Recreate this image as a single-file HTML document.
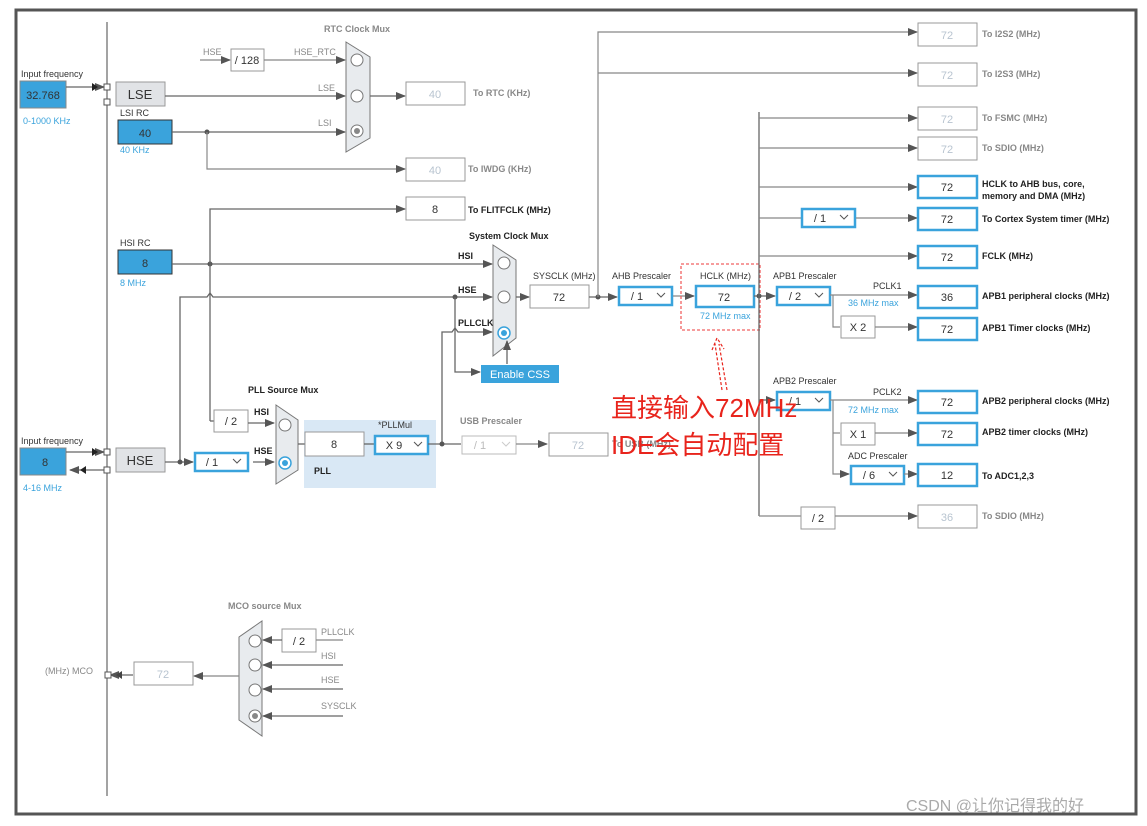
<!DOCTYPE html>
<html><head><meta charset="utf-8"><style>
html,body{margin:0;padding:0;background:#fff;}
svg{display:block;font-family:"Liberation Sans",Arial,sans-serif;}
.l{stroke:#666;stroke-width:1.3;fill:none}
.g{stroke:#888;stroke-width:1.2;fill:none}
.t{font-size:9px;fill:#333}
.tb{font-size:9px;fill:#222;font-weight:bold}
.tg{font-size:9px;fill:#888}
.tgb{font-size:9px;fill:#888;font-weight:bold}
.bl{font-size:9px;fill:#3aa3dc}
.wb{fill:#fff;stroke:#999;stroke-width:1}
.bb{fill:#fff;stroke:#3aa3dc;stroke-width:2.5}
.v{font-size:11px;fill:#333;text-anchor:middle}
.vg{font-size:11px;fill:#b8c4d0;text-anchor:middle}
.mux{fill:#e8ebee;stroke:#777;stroke-width:1}
.c{fill:#fff;stroke:#777;stroke-width:1}
</style></head><body>
<svg width="1147" height="826" viewBox="0 0 1147 826">
<defs>
<marker id="a" markerWidth="10" markerHeight="8" refX="9" refY="4" orient="auto" markerUnits="userSpaceOnUse"><path d="M0,0 L10,4 L0,8z" fill="#555"/></marker>
</defs>
<rect x="16" y="10" width="1120" height="804" fill="#fff" stroke="#555" stroke-width="3"/>
<line x1="107" y1="22" x2="107" y2="796" stroke="#666" stroke-width="1.2"/>

<text x="21" y="77" class="t">Input frequency</text>
<rect x="20" y="81" width="46" height="27" fill="#3aa3dc" stroke="#888"/>
<text x="43" y="99" class="v">32.768</text>
<text x="23" y="124" class="bl">0-1000 KHz</text>
<line x1="66" y1="87" x2="104" y2="87" class="l" marker-end="url(#a)"/>
<path d="M92,83 L98,87 L92,91z" fill="#222"/>
<rect x="104" y="84" width="6" height="6" fill="#fff" stroke="#555"/>
<rect x="104" y="99" width="6" height="6" fill="#fff" stroke="#555"/>
<rect x="116" y="82" width="49" height="24" fill="#e1e3e6" stroke="#999"/>
<text x="140" y="99" style="font-size:13px;fill:#333;text-anchor:middle">LSE</text>
<text x="120" y="116" class="t">LSI RC</text>
<rect x="118" y="120" width="54" height="24" fill="#3aa3dc" stroke="#333"/>
<text x="145" y="137" class="v">40</text>
<text x="120" y="153" class="bl">40 KHz</text>

<text x="324" y="32" class="tgb">RTC Clock Mux</text>
<text x="203" y="55" class="tg">HSE</text>
<line x1="200" y1="60" x2="230" y2="60" class="g" marker-end="url(#a)"/>
<rect x="231" y="49" width="33" height="22" class="wb"/>
<text x="247" y="64" class="v">/ 128</text>
<text x="294" y="55" class="tg">HSE_RTC</text>
<line x1="264" y1="60" x2="345" y2="60" class="g" marker-end="url(#a)"/>
<text x="318" y="91" class="tg">LSE</text>
<line x1="165" y1="96" x2="345" y2="96" class="l" marker-end="url(#a)"/>
<text x="318" y="126" class="tg">LSI</text>
<line x1="172" y1="132" x2="345" y2="132" class="l" marker-end="url(#a)"/>
<circle cx="207" cy="132" r="2.5" fill="#555"/>
<polyline points="207,132 207,169 405,169" class="g" marker-end="url(#a)"/>
<polygon points="346,42 370,57 370,138 346,152" class="mux"/>
<circle cx="357" cy="60" r="6" class="c"/><circle cx="357" cy="96" r="6" class="c"/><circle cx="357" cy="131" r="6" class="c"/><circle cx="357" cy="131" r="3" fill="#888"/>
<line x1="370" y1="96" x2="405" y2="96" class="l" marker-end="url(#a)"/>
<rect x="406" y="82" width="59" height="23" class="wb"/><text x="435" y="98" class="vg">40</text>
<text x="473" y="96" class="tgb">To RTC (KHz)</text>
<rect x="406" y="158" width="59" height="23" class="wb"/><text x="435" y="174" class="vg">40</text>
<text x="468" y="172" class="tgb">To IWDG (KHz)</text>
<rect x="406" y="197" width="59" height="23" class="wb"/><text x="435" y="213" class="v">8</text>
<text x="468" y="213" class="tb">To FLITFCLK (MHz)</text>

<text x="120" y="246" class="t">HSI RC</text>
<rect x="118" y="250" width="54" height="24" fill="#3aa3dc" stroke="#333"/>
<text x="145" y="267" class="v">8</text>
<text x="120" y="286" class="bl">8 MHz</text>
<line x1="172" y1="264" x2="492" y2="264" class="l" marker-end="url(#a)"/>
<circle cx="210" cy="264" r="2.5" fill="#555"/>
<polyline points="210,421 210,209 405,209" class="l" marker-end="url(#a)"/>
<polyline points="210,421 214,421" class="l"/>
<text x="458" y="259" class="tb">HSI</text>
<polyline points="180,462 180,297 207,297 210,293 213,297 492,297" class="l" marker-end="url(#a)"/>
<text x="458" y="293" class="tb">HSE</text>
<circle cx="455" cy="297" r="2.5" fill="#555"/>
<polyline points="455,297 455,372 480,372" class="l" marker-end="url(#a)"/>
<polyline points="442,444 442,332 452,332 455,328 458,332 492,332" class="l" marker-end="url(#a)"/>
<text x="458" y="326" class="tb">PLLCLK</text>
<text x="469" y="239" class="tb">System Clock Mux</text>
<polygon points="493,245 516,260 516,338 493,356" class="mux"/>
<circle cx="504" cy="263" r="6" class="c"/><circle cx="504" cy="297" r="6" class="c"/>
<circle cx="504" cy="333" r="6" fill="#fff" stroke="#3aa3dc" stroke-width="1.5"/><circle cx="504" cy="333" r="3" fill="#3aa3dc"/>
<line x1="507" y1="364" x2="507" y2="341" class="l" marker-end="url(#a)"/>
<rect x="481" y="365" width="78" height="18" fill="#3aa3dc"/>
<text x="520" y="378" style="font-size:11px;fill:#fff;text-anchor:middle">Enable CSS</text>
<line x1="516" y1="297" x2="529" y2="297" class="l" marker-end="url(#a)"/>
<text x="533" y="279" class="t">SYSCLK (MHz)</text>
<rect x="530" y="285" width="59" height="23" class="wb"/><text x="559" y="301" class="v">72</text>
<line x1="589" y1="297" x2="617" y2="297" class="l" marker-end="url(#a)"/>
<circle cx="598" cy="297" r="2.5" fill="#555"/>
<polyline points="598,297 598,32 917,32" class="g" marker-end="url(#a)"/>
<line x1="598" y1="73" x2="917" y2="73" class="g" marker-end="url(#a)"/>

<text x="612" y="279" class="t">AHB Prescaler</text>
<rect x="619" y="287" width="53" height="18" class="bb"/><text x="637" y="300" class="v">/ 1</text>
<path d="M657,293 l4,4 l4,-4" fill="none" stroke="#555"/>
<line x1="673" y1="296" x2="694" y2="296" class="g" marker-end="url(#a)"/>
<text x="700" y="279" class="t">HCLK (MHz)</text>
<rect x="696" y="286" width="58" height="21" class="bb"/><text x="724" y="301" class="v">72</text>
<text x="700" y="319" class="bl">72 MHz max</text>
<rect x="681" y="264" width="79" height="66" fill="none" stroke="#f06060" stroke-width="1.3" stroke-dasharray="3,2"/>
<line x1="754" y1="296" x2="775" y2="296" class="l" marker-end="url(#a)"/>
<circle cx="759" cy="296" r="2.5" fill="#555"/>
<line x1="759" y1="112" x2="759" y2="516" class="l"/>
<line x1="759" y1="118" x2="917" y2="118" class="g" marker-end="url(#a)"/>
<line x1="759" y1="148" x2="917" y2="148" class="g" marker-end="url(#a)"/>
<line x1="759" y1="187" x2="917" y2="187" class="g" marker-end="url(#a)"/>
<line x1="759" y1="218" x2="801" y2="218" class="g"/>
<rect x="802" y="209" width="53" height="18" class="bb"/><text x="820" y="222" class="v">/ 1</text>
<path d="M840,215 l4,4 l4,-4" fill="none" stroke="#555"/>
<line x1="856" y1="218" x2="917" y2="218" class="g" marker-end="url(#a)"/>
<line x1="759" y1="256" x2="917" y2="256" class="g" marker-end="url(#a)"/>

<text x="773" y="279" class="t">APB1 Prescaler</text>
<rect x="777" y="287" width="53" height="18" class="bb"/><text x="795" y="300" class="v">/ 2</text>
<path d="M815,293 l4,4 l4,-4" fill="none" stroke="#555"/>
<line x1="830" y1="295" x2="917" y2="295" class="g" marker-end="url(#a)"/>
<text x="873" y="289" class="t">PCLK1</text>
<text x="848" y="306" class="bl">36 MHz max</text>
<polyline points="833,295 833,327 840,327" class="g"/>
<rect x="841" y="316" width="34" height="22" class="wb"/><text x="858" y="331" class="v">X 2</text>
<line x1="875" y1="327" x2="917" y2="327" class="g" marker-end="url(#a)"/>

<line x1="759" y1="400" x2="775" y2="400" class="l" marker-end="url(#a)"/>
<text x="773" y="384" class="t">APB2 Prescaler</text>
<rect x="777" y="392" width="53" height="18" class="bb"/><text x="795" y="405" class="v">/ 1</text>
<path d="M815,398 l4,4 l4,-4" fill="none" stroke="#555"/>
<line x1="830" y1="400" x2="917" y2="400" class="g" marker-end="url(#a)"/>
<text x="873" y="395" class="t">PCLK2</text>
<text x="848" y="413" class="bl">72 MHz max</text>
<polyline points="833,400 833,474 849,474" class="g" marker-end="url(#a)"/>
<line x1="833" y1="433" x2="840" y2="433" class="g"/>
<rect x="841" y="423" width="34" height="22" class="wb"/><text x="858" y="438" class="v">X 1</text>
<line x1="875" y1="433" x2="917" y2="433" class="g" marker-end="url(#a)"/>
<text x="848" y="459" class="t">ADC Prescaler</text>
<rect x="851" y="466" width="53" height="18" class="bb"/><text x="869" y="479" class="v">/ 6</text>
<path d="M889,472 l4,4 l4,-4" fill="none" stroke="#555"/>
<line x1="904" y1="474" x2="917" y2="474" class="g" marker-end="url(#a)"/>
<polyline points="759,516 801,516" class="g"/>
<rect x="801" y="507" width="34" height="22" class="wb"/><text x="818" y="522" class="v">/ 2</text>
<line x1="835" y1="516" x2="917" y2="516" class="g" marker-end="url(#a)"/>

<g>
<rect x="918" y="23" width="59" height="23" class="wb"/><text x="947" y="39" class="vg">72</text><text x="982" y="37" class="tgb">To I2S2 (MHz)</text>
<rect x="918" y="63" width="59" height="23" class="wb"/><text x="947" y="79" class="vg">72</text><text x="982" y="77" class="tgb">To I2S3 (MHz)</text>
<rect x="918" y="107" width="59" height="23" class="wb"/><text x="947" y="123" class="vg">72</text><text x="982" y="121" class="tgb">To FSMC (MHz)</text>
<rect x="918" y="137" width="59" height="23" class="wb"/><text x="947" y="153" class="vg">72</text><text x="982" y="151" class="tgb">To SDIO (MHz)</text>
<rect x="918" y="176" width="59" height="22" class="bb"/><text x="947" y="191" class="v">72</text><text x="982" y="187" class="tb">HCLK to AHB bus, core,</text><text x="982" y="199" class="tb">memory and DMA (MHz)</text>
<rect x="918" y="208" width="59" height="22" class="bb"/><text x="947" y="223" class="v">72</text><text x="982" y="222" class="tb">To Cortex System timer (MHz)</text>
<rect x="918" y="246" width="59" height="22" class="bb"/><text x="947" y="261" class="v">72</text><text x="982" y="259" class="tb">FCLK (MHz)</text>
<rect x="918" y="286" width="59" height="22" class="bb"/><text x="947" y="301" class="v">36</text><text x="982" y="299" class="tb">APB1 peripheral clocks (MHz)</text>
<rect x="918" y="318" width="59" height="22" class="bb"/><text x="947" y="333" class="v">72</text><text x="982" y="331" class="tb">APB1 Timer clocks (MHz)</text>
<rect x="918" y="391" width="59" height="22" class="bb"/><text x="947" y="406" class="v">72</text><text x="982" y="404" class="tb">APB2 peripheral clocks (MHz)</text>
<rect x="918" y="423" width="59" height="22" class="bb"/><text x="947" y="438" class="v">72</text><text x="982" y="435" class="tb">APB2 timer clocks (MHz)</text>
<rect x="918" y="464" width="59" height="22" class="bb"/><text x="947" y="479" class="v">12</text><text x="982" y="479" class="tb">To ADC1,2,3</text>
<rect x="918" y="505" width="59" height="23" class="wb"/><text x="947" y="521" class="vg">36</text><text x="982" y="519" class="tgb">To SDIO (MHz)</text>
</g>

<text x="21" y="444" class="t">Input frequency</text>
<rect x="20" y="448" width="46" height="27" fill="#3aa3dc" stroke="#888"/>
<text x="45" y="466" class="v">8</text>
<text x="23" y="491" class="bl">4-16 MHz</text>
<line x1="66" y1="452" x2="104" y2="452" class="l" marker-end="url(#a)"/>
<path d="M92,448 L98,452 L92,456z" fill="#222"/>
<line x1="104" y1="470" x2="70" y2="470" class="l" marker-end="url(#a)"/>
<path d="M86,466 L80,470 L86,474z" fill="#222"/>
<rect x="104" y="449" width="6" height="6" fill="#fff" stroke="#555"/>
<rect x="104" y="467" width="6" height="6" fill="#fff" stroke="#555"/>
<rect x="116" y="448" width="49" height="24" fill="#e1e3e6" stroke="#999"/>
<text x="140" y="465" style="font-size:13px;fill:#333;text-anchor:middle">HSE</text>
<line x1="165" y1="462" x2="193" y2="462" class="l" marker-end="url(#a)"/>
<circle cx="180" cy="462" r="2.5" fill="#555"/>
<rect x="195" y="453" width="53" height="18" class="bb"/><text x="212" y="466" class="v">/ 1</text>
<path d="M233,459 l4,4 l4,-4" fill="none" stroke="#555"/>
<line x1="253" y1="462" x2="274" y2="462" class="l" marker-end="url(#a)"/>
<rect x="214" y="410" width="34" height="22" class="wb"/><text x="231" y="425" class="v">/ 2</text>
<line x1="248" y1="423" x2="274" y2="423" class="l" marker-end="url(#a)"/>
<text x="254" y="415" class="tb">HSI</text>
<text x="254" y="454" class="tb">HSE</text>
<text x="248" y="393" class="tb">PLL  Source Mux</text>
<polygon points="276,405 298,420 298,470 276,484" class="mux"/>
<circle cx="285" cy="425" r="6" class="c"/>
<circle cx="285" cy="463" r="6" fill="#fff" stroke="#3aa3dc" stroke-width="1.5"/><circle cx="285" cy="463" r="3" fill="#3aa3dc"/>
<rect x="304" y="420" width="132" height="68" fill="#d9e8f5"/>
<line x1="298" y1="444" x2="305" y2="444" class="l"/>
<rect x="305" y="432" width="59" height="24" class="wb"/><text x="334" y="448" class="v">8</text>
<text x="378" y="428" class="t">*PLLMul</text>
<line x1="364" y1="444" x2="375" y2="444" class="l"/>
<rect x="375" y="436" width="53" height="18" class="bb"/><text x="394" y="449" class="v">X 9</text>
<path d="M414,442 l4,4 l4,-4" fill="none" stroke="#555"/>
<text x="314" y="474" class="tb">PLL</text>
<line x1="428" y1="444" x2="461" y2="444" class="l"/>
<circle cx="442" cy="444" r="2.5" fill="#555"/>
<text x="460" y="424" class="tgb">USB Prescaler</text>
<rect x="462" y="436" width="54" height="18" fill="#fff" stroke="#bbb"/><text x="480" y="449" class="vg" style="fill:#bbb">/ 1</text>
<path d="M502,442 l4,4 l4,-4" fill="none" stroke="#ccc"/>
<line x1="516" y1="444" x2="547" y2="444" class="g" marker-end="url(#a)"/>
<rect x="549" y="433" width="59" height="23" class="wb"/><text x="578" y="449" class="vg">72</text>
<text x="612" y="447" class="tgb">To USB (MHz)</text>

<text x="611" y="417" style="font-size:26px;fill:#e8241c;font-family:'Liberation Sans','Noto Sans CJK SC',sans-serif">直接输入72MHz</text>
<text x="611" y="454" style="font-size:26px;fill:#e8241c;font-family:'Liberation Sans','Noto Sans CJK SC',sans-serif">IDE会自动配置</text>
<path d="M727,390 L719,344 M722,390 L715,344 M712,350 L717,338 L724,349" fill="none" stroke="#e8241c" stroke-width="1.2" stroke-dasharray="3,2"/>

<text x="228" y="609" class="tgb">MCO source Mux</text>
<polygon points="239,637 262,621 262,736 239,720" class="mux"/>
<circle cx="255" cy="641" r="6" class="c"/><circle cx="255" cy="665" r="6" class="c"/><circle cx="255" cy="690" r="6" class="c"/><circle cx="255" cy="716" r="6" class="c"/><circle cx="255" cy="716" r="3" fill="#888"/>
<rect x="282" y="629" width="34" height="23" class="wb"/><text x="299" y="645" class="v">/ 2</text>
<line x1="282" y1="640" x2="263" y2="640" class="l" marker-end="url(#a)"/>
<line x1="316" y1="640" x2="343" y2="640" class="g"/>
<text x="321" y="635" class="tg">PLLCLK</text>
<line x1="343" y1="665" x2="263" y2="665" class="l" marker-end="url(#a)"/>
<text x="321" y="659" class="tg">HSI</text>
<line x1="343" y1="689" x2="263" y2="689" class="l" marker-end="url(#a)"/>
<text x="321" y="683" class="tg">HSE</text>
<line x1="343" y1="716" x2="263" y2="716" class="l" marker-end="url(#a)"/>
<text x="321" y="709" class="tg">SYSCLK</text>
<line x1="239" y1="676" x2="194" y2="676" class="g" marker-end="url(#a)"/>
<rect x="134" y="662" width="59" height="23" class="wb"/><text x="163" y="678" class="vg">72</text>
<line x1="133" y1="675" x2="110" y2="675" class="l" marker-end="url(#a)"/>
<path d="M122,671 L116,675 L122,679z" fill="#444"/>
<rect x="105" y="672" width="6" height="6" fill="#fff" stroke="#555"/>
<text x="45" y="674" class="tg">(MHz) MCO</text>

<text x="906" y="811" style="font-size:16px;fill:#aaa;font-family:'Liberation Sans','Noto Sans CJK SC',sans-serif">CSDN @让你记得我的好</text>
</svg>
</body></html>
